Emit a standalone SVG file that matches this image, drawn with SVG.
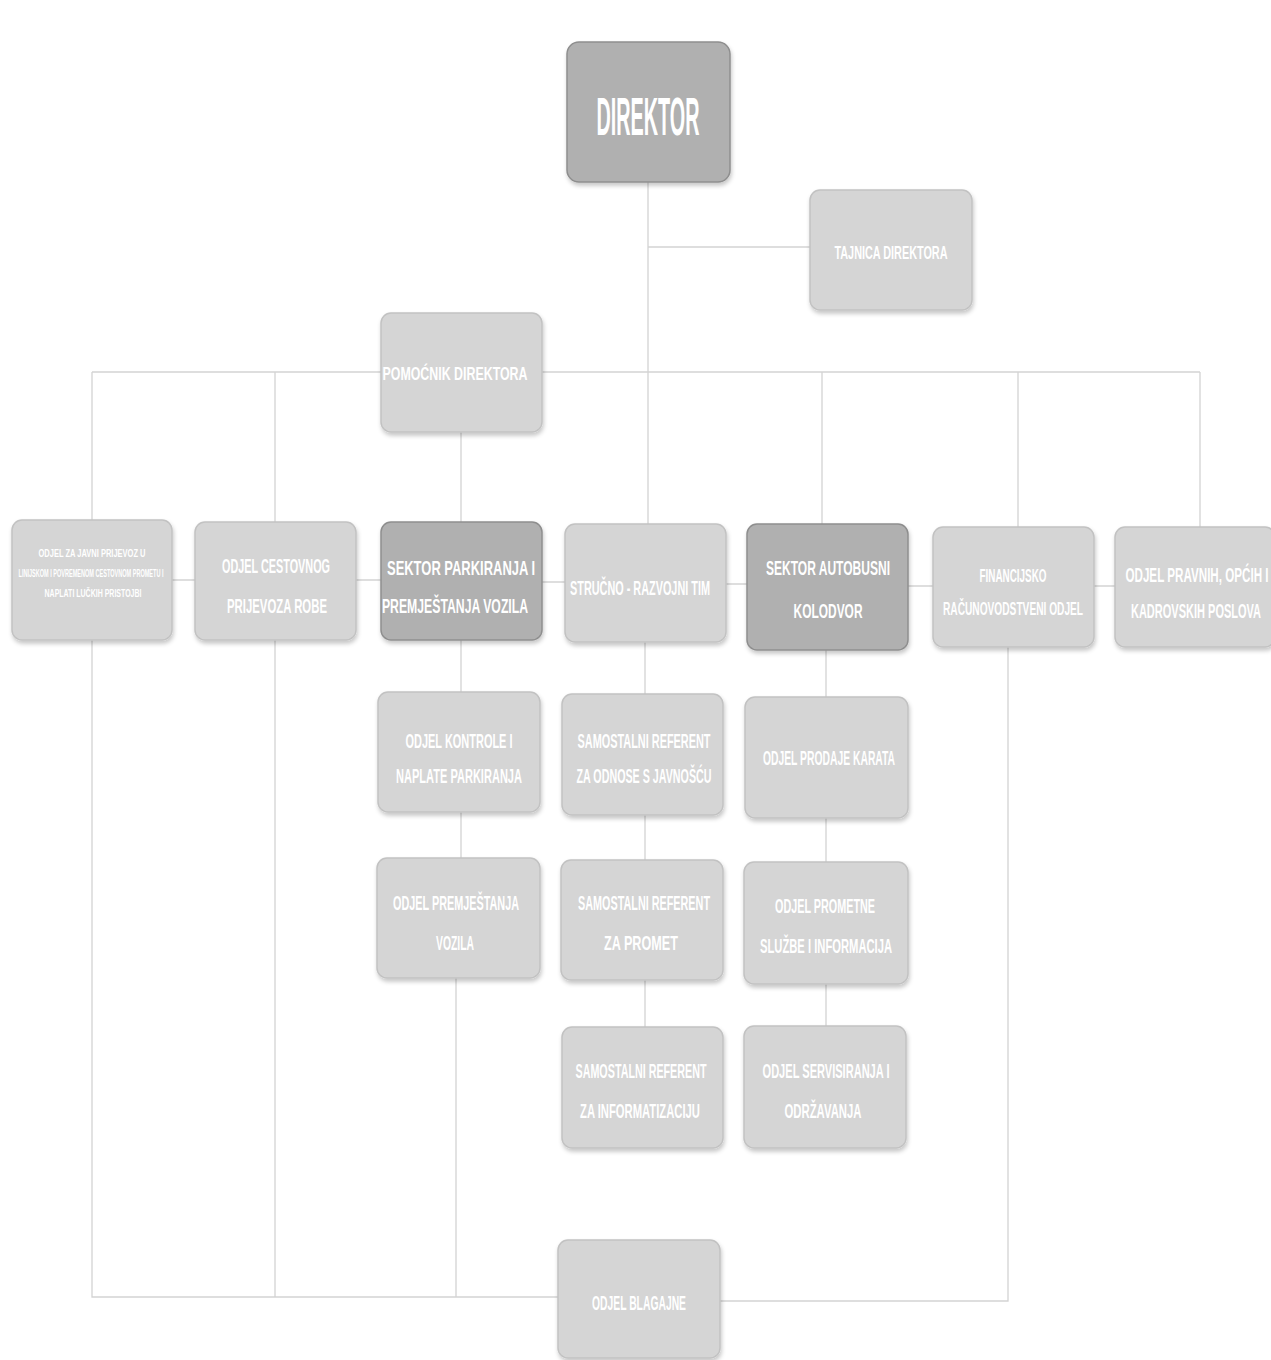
<svg xmlns="http://www.w3.org/2000/svg" width="1271" height="1360" viewBox="0 0 1271 1360">
<defs>
<filter id="sh" x="-10%" y="-10%" width="125%" height="130%">
<feDropShadow dx="1" dy="3" stdDeviation="2" flood-color="#000" flood-opacity="0.22"/>
</filter>
<style>
.bx{fill:#d5d5d5;stroke:#c2c2c2;stroke-width:1.5;filter:url(#sh)}
.dk{fill:#b0b0b0;stroke:#8e8e8e;stroke-width:1.5;filter:url(#sh)}
text{font-family:"Liberation Sans","DejaVu Sans",sans-serif;font-weight:bold;fill:#ffffff;text-anchor:middle}
.t{font-size:21px}
.m{font-size:19px}
.f{font-size:18px}
.s{font-size:10px}
.c{fill:none;stroke:#d3d3d3;stroke-width:1.3}
</style>
</defs>
<rect width="1271" height="1360" fill="#ffffff"/>
<g id="connectors">
<path class="c" d="M648 182V524"/>
<path class="c" d="M648 247H810"/>
<path class="c" d="M92 372H381M542 372H1200"/>
<path class="c" d="M92 372V520M275 372V522M822 372V524M1018 372V527M1200 372V527"/>
<path class="c" d="M461 432V522M461 640V692M461 812V858M456 978V1297"/>
<path class="c" d="M645 642V694M645 815V860M645 980V1027"/>
<path class="c" d="M826 650V697M826 818V862M826 984V1026"/>
<path class="c" d="M172 580H195M356 580H381M542 582H565M726 584H747M908 586H933M1094 586H1115"/>
<path class="c" d="M92 640V1297H558M275 640V1297"/>
<path class="c" d="M720 1301H1008V647"/>
</g>
<g id="direktor"><rect class="dk" x="567" y="42" width="163" height="140" rx="12"/>
<text style="font-size:54px" transform="matrix(0.365 0 0 1 648 135)" textLength="282" lengthAdjust="spacingAndGlyphs">DIREKTOR</text></g>
<g id="tajnica"><rect class="bx" x="810" y="190" width="162" height="120" rx="10"/>
<text class="m" transform="matrix(0.564 0 0 1 891 259)" textLength="200.5" lengthAdjust="spacingAndGlyphs">TAJNICA DIREKTORA</text></g>
<g id="pomocnik"><rect class="bx" x="381" y="313" width="161" height="119" rx="10"/>
<text class="m" transform="matrix(0.651 0 0 1 455 380)" textLength="222.7" lengthAdjust="spacingAndGlyphs">POMOĆNIK DIREKTORA</text></g>
<g id="odjel-javnog-prijevoza"><rect class="bx" x="12" y="520" width="160" height="120" rx="10"/>
<text class="s" transform="matrix(0.744 0 0 1 92 557)" textLength="143.9" lengthAdjust="spacingAndGlyphs">ODJEL ZA JAVNI PRIJEVOZ U</text>
<text class="s" transform="matrix(0.554 0 0 1 91 577)" textLength="261.7" lengthAdjust="spacingAndGlyphs">LINIJSKOM I POVREMENOM CESTOVNOM PROMETU I</text>
<text class="s" transform="matrix(0.695 0 0 1 93 597)" textLength="139.5" lengthAdjust="spacingAndGlyphs">NAPLATI LUČKIH PRISTOJBI</text></g>
<g id="odjel-cestovnog"><rect class="bx" x="195" y="522" width="161" height="118" rx="10"/>
<text class="t" transform="matrix(0.514 0 0 1 276 573)" textLength="210" lengthAdjust="spacingAndGlyphs">ODJEL CESTOVNOG</text>
<text class="t" transform="matrix(0.539 0 0 1 277 613)" textLength="185.5" lengthAdjust="spacingAndGlyphs">PRIJEVOZA ROBE</text></g>
<g id="sektor-parkiranja"><rect class="dk" x="381" y="522" width="161" height="118" rx="10"/>
<text class="t" transform="matrix(0.61 0 0 1 461 575)" textLength="242.7" lengthAdjust="spacingAndGlyphs">SEKTOR PARKIRANJA I</text>
<text class="t" transform="matrix(0.577 0 0 1 455 613)" textLength="253.2" lengthAdjust="spacingAndGlyphs">PREMJEŠTANJA VOZILA</text></g>
<g id="strucno-razvojni"><rect class="bx" x="565" y="524" width="161" height="118" rx="10"/>
<text class="t" transform="matrix(0.517 0 0 1 640 595)" textLength="270.7" lengthAdjust="spacingAndGlyphs">STRUČNO - RAZVOJNI TIM</text></g>
<g id="sektor-autobusni"><rect class="dk" x="747" y="524" width="161" height="126" rx="10"/>
<text class="t" transform="matrix(0.568 0 0 1 828 575)" textLength="218.2" lengthAdjust="spacingAndGlyphs">SEKTOR AUTOBUSNI</text>
<text class="t" transform="matrix(0.569 0 0 1 828 618)" textLength="121.3" lengthAdjust="spacingAndGlyphs">KOLODVOR</text></g>
<g id="financijsko"><rect class="bx" x="933" y="527" width="161" height="120" rx="10"/>
<text class="f" transform="matrix(0.549 0 0 1 1013 582)" textLength="122" lengthAdjust="spacingAndGlyphs">FINANCIJSKO</text>
<text class="f" transform="matrix(0.565 0 0 1 1013 615)" textLength="248" lengthAdjust="spacingAndGlyphs">RAČUNOVODSTVENI ODJEL</text></g>
<g id="odjel-pravnih"><rect class="bx" x="1115" y="527" width="160" height="120" rx="10"/>
<text class="t" transform="matrix(0.55 0 0 1 1197 582)" textLength="260.2" lengthAdjust="spacingAndGlyphs">ODJEL PRAVNIH, OPĆIH I</text>
<text class="t" transform="matrix(0.521 0 0 1 1196 618)" textLength="249.7" lengthAdjust="spacingAndGlyphs">KADROVSKIH POSLOVA</text></g>
<g id="odjel-kontrole"><rect class="bx" x="378" y="692" width="162" height="120" rx="10"/>
<text class="t" transform="matrix(0.521 0 0 1 459 748)" textLength="205.4" lengthAdjust="spacingAndGlyphs">ODJEL KONTROLE I</text>
<text class="t" transform="matrix(0.519 0 0 1 459 783)" textLength="242.7" lengthAdjust="spacingAndGlyphs">NAPLATE PARKIRANJA</text></g>
<g id="ref-javnost"><rect class="bx" x="562" y="694" width="161" height="121" rx="10"/>
<text class="t" transform="matrix(0.516 0 0 1 644 748)" textLength="257.8" lengthAdjust="spacingAndGlyphs">SAMOSTALNI REFERENT</text>
<text class="t" transform="matrix(0.505 0 0 1 644 783)" textLength="267.2" lengthAdjust="spacingAndGlyphs">ZA ODNOSE S JAVNOŠĆU</text></g>
<g id="odjel-prodaje"><rect class="bx" x="745" y="697" width="163" height="121" rx="10"/>
<text class="t" transform="matrix(0.486 0 0 1 829 765)" textLength="271.8" lengthAdjust="spacingAndGlyphs">ODJEL PRODAJE KARATA</text></g>
<g id="odjel-premjestanja"><rect class="bx" x="377" y="858" width="163" height="120" rx="10"/>
<text class="t" transform="matrix(0.512 0 0 1 456 910)" textLength="246.2" lengthAdjust="spacingAndGlyphs">ODJEL PREMJEŠTANJA</text>
<text class="t" transform="matrix(0.494 0 0 1 455 950)" textLength="77" lengthAdjust="spacingAndGlyphs">VOZILA</text></g>
<g id="ref-promet"><rect class="bx" x="561" y="860" width="162" height="120" rx="10"/>
<text class="t" transform="matrix(0.512 0 0 1 644 910)" textLength="257.8" lengthAdjust="spacingAndGlyphs">SAMOSTALNI REFERENT</text>
<text class="t" transform="matrix(0.598 0 0 1 641 950)" textLength="123.7" lengthAdjust="spacingAndGlyphs">ZA PROMET</text></g>
<g id="odjel-prometne"><rect class="bx" x="744" y="862" width="164" height="122" rx="10"/>
<text class="t" transform="matrix(0.513 0 0 1 825 913)" textLength="194.9" lengthAdjust="spacingAndGlyphs">ODJEL PROMETNE</text>
<text class="t" transform="matrix(0.534 0 0 1 826 953)" textLength="247.3" lengthAdjust="spacingAndGlyphs">SLUŽBE I INFORMACIJA</text></g>
<g id="ref-informatizacija"><rect class="bx" x="562" y="1027" width="161" height="121" rx="10"/>
<text class="t" transform="matrix(0.508 0 0 1 641 1078)" textLength="257.8" lengthAdjust="spacingAndGlyphs">SAMOSTALNI REFERENT</text>
<text class="t" transform="matrix(0.53 0 0 1 640 1118)" textLength="226.3" lengthAdjust="spacingAndGlyphs">ZA INFORMATIZACIJU</text></g>
<g id="odjel-servisiranja"><rect class="bx" x="744" y="1026" width="162" height="122" rx="10"/>
<text class="t" transform="matrix(0.523 0 0 1 826 1078)" textLength="242.7" lengthAdjust="spacingAndGlyphs">ODJEL SERVISIRANJA I</text>
<text class="t" transform="matrix(0.528 0 0 1 823 1118)" textLength="145.8" lengthAdjust="spacingAndGlyphs">ODRŽAVANJA</text></g>
<g id="odjel-blagajne"><rect class="bx" x="558" y="1240" width="162" height="118" rx="10"/>
<text class="t" transform="matrix(0.491 0 0 1 639 1310)" textLength="191.4" lengthAdjust="spacingAndGlyphs">ODJEL BLAGAJNE</text></g>
</svg>
